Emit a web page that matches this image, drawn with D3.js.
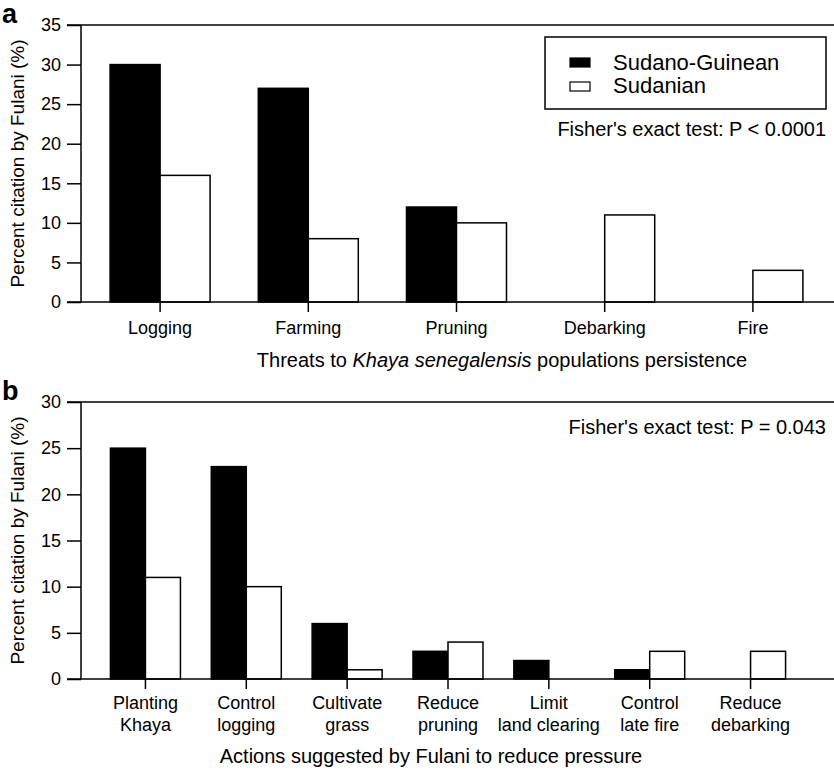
<!DOCTYPE html>
<html>
<head>
<meta charset="utf-8">
<script src="https://cdn.jsdelivr.net/npm/d3@7"></script>
<style>
    body { margin: 0; background: #fff; }
    svg { display: block; font-family: "Liberation Sans", Arial, sans-serif; }
</style>
</head>
<body>
<div id="wrapper"></div>
<script>
// panel a data
const threats = ["Logging", "Farming", "Pruning", "Debarking", "Fire"];
const threatsSG = [30, 27, 12, 0, 0];
const threatsS = [16, 8, 10, 11, 4];
const threatsTicks = [0, 5, 10, 15, 20, 25, 30, 35];

// panel b data
const actions = [["Planting", "Khaya"], ["Control", "logging"], ["Cultivate", "grass"], ["Reduce", "pruning"],
    ["Limit", "land clearing"], ["Control", "late fire"], ["Reduce", "debarking"]];
const actionsSG = [25, 23, 6, 3, 2, 1, 0];
const actionsS = [11, 10, 1, 4, 0, 3, 3];
const actionsTicks = [0, 5, 10, 15, 20, 25, 30];

const seriesNames = ["Sudano-Guinean", "Sudanian"];

const dimension = { width: 834, height: 770 };

const svg = d3.select("#wrapper").append("svg")
    .attr("width", dimension.width)
    .attr("height", dimension.height);

function panel(opt) {
    const g = svg.append("g");
    const yScale = d3.scaleLinear().domain([0, opt.max]).range([opt.bottom, opt.top]);
    const xScale = d3.scaleBand().domain(opt.cats.map((d, i) => i)).range(opt.xRange);

    // bars
    const data = opt.cats.map((c, i) => ({ i: i, a: opt.sg[i], b: opt.s[i] }));
    const bw = opt.barW;
    data.forEach(d => {
        const cx = xScale(d.i) + xScale.bandwidth() / 2;
        [[d.a, cx - bw, "#000"], [d.b, cx, "#fff"]].forEach(([v, x0, fill]) => {
            g.append("rect")
                .attr("x", x0)
                .attr("y", yScale(v))
                .attr("width", bw)
                .attr("height", yScale(0) - yScale(v))
                .attr("fill", fill)
                .attr("stroke", "#000")
                .attr("stroke-width", 1.5);
        });
    });

    // y axis
    const yAxis = g.append("g")
        .attr("transform", `translate(${opt.xAxisX},0)`)
        .call(d3.axisLeft(yScale).tickValues(opt.ticks).tickSize(14).tickPadding(6));
    yAxis.select(".domain").remove();
    yAxis.selectAll("line").attr("stroke-width", 1.5);
    yAxis.selectAll("text").attr("font-size", 18).attr("fill", "#000")
        .attr("font-family", "Liberation Sans, Arial, sans-serif");

    // frame lines (left, top, bottom)
    g.append("line").attr("x1", opt.xAxisX).attr("x2", opt.xAxisX)
        .attr("y1", opt.top).attr("y2", opt.bottom).attr("stroke", "#000").attr("stroke-width", 1.5);
    g.append("line").attr("x1", opt.xAxisX - 14).attr("x2", dimension.width)
        .attr("y1", opt.top).attr("y2", opt.top).attr("stroke", "#000").attr("stroke-width", 1.5);
    g.append("line").attr("x1", opt.xAxisX - 14).attr("x2", dimension.width)
        .attr("y1", opt.bottom).attr("y2", opt.bottom).attr("stroke", "#000").attr("stroke-width", 1.5);

    // x ticks and labels
    data.forEach(d => {
        const cx = xScale(d.i) + xScale.bandwidth() / 2;
        g.append("line").attr("x1", cx).attr("x2", cx)
            .attr("y1", opt.bottom).attr("y2", opt.bottom + 10)
            .attr("stroke", "#000").attr("stroke-width", 1.5);
        const lines = Array.isArray(opt.cats[d.i]) ? opt.cats[d.i] : [opt.cats[d.i]];
        lines.forEach((t, k) => {
            g.append("text")
                .attr("x", cx)
                .attr("y", opt.bottom + opt.labelOffset + k * 22)
                .attr("text-anchor", "middle")
                .attr("font-size", 18)
                .text(t);
        });
    });

    // y title
    g.append("text")
        .attr("transform", `translate(24,${(opt.top + opt.bottom) / 2}) rotate(-90)`)
        .attr("text-anchor", "middle")
        .attr("font-size", 19)
        .text("Percent citation by Fulani (%)");

    // panel letter
    g.append("text")
        .attr("x", 2)
        .attr("y", opt.top - 2)
        .attr("font-size", 27)
        .attr("font-weight", "bold")
        .text(opt.letter);

    return { g, yScale, xScale };
}

const pa = panel({
    cats: threats, sg: threatsSG, s: threatsS, ticks: threatsTicks, max: 35,
    top: 25, bottom: 302, xAxisX: 81, xRange: [86, 827], barW: 50,
    labelOffset: 32, letter: "a"
});

pa.g.append("text")
    .attr("x", 502).attr("y", 367)
    .attr("text-anchor", "middle")
    .attr("font-size", 20)
    .html("Threats to <tspan font-style='italic'>Khaya senegalensis</tspan> populations persistence");

// legend
const legend = pa.g.append("g");
legend.append("rect")
    .attr("x", 545).attr("y", 37).attr("width", 281).attr("height", 72)
    .attr("fill", "#fff").attr("stroke", "#000").attr("stroke-width", 1.5);
seriesNames.forEach((name, i) => {
    legend.append("rect")
        .attr("x", 570).attr("y", 58 + i * 24).attr("width", 20).attr("height", 9)
        .attr("fill", i === 0 ? "#000" : "#fff").attr("stroke", "#000").attr("stroke-width", 1.2);
    legend.append("text")
        .attr("x", 613).attr("y", 70 + i * 23)
        .attr("font-size", 22)
        .text(name);
});
pa.g.append("text")
    .attr("x", 826).attr("y", 136)
    .attr("text-anchor", "end")
    .attr("font-size", 20)
    .text("Fisher's exact test: P < 0.0001");

const pb = panel({
    cats: actions, sg: actionsSG, s: actionsS, ticks: actionsTicks, max: 30,
    top: 402, bottom: 679, xAxisX: 81, xRange: [95, 801], barW: 35,
    labelOffset: 30, letter: "b"
});

pb.g.append("text")
    .attr("x", 826).attr("y", 434)
    .attr("text-anchor", "end")
    .attr("font-size", 20)
    .text("Fisher's exact test: P = 0.043");

pb.g.append("text")
    .attr("x", 431).attr("y", 763)
    .attr("text-anchor", "middle")
    .attr("font-size", 20)
    .text("Actions suggested by Fulani to reduce pressure");
</script>
</body>
</html>
